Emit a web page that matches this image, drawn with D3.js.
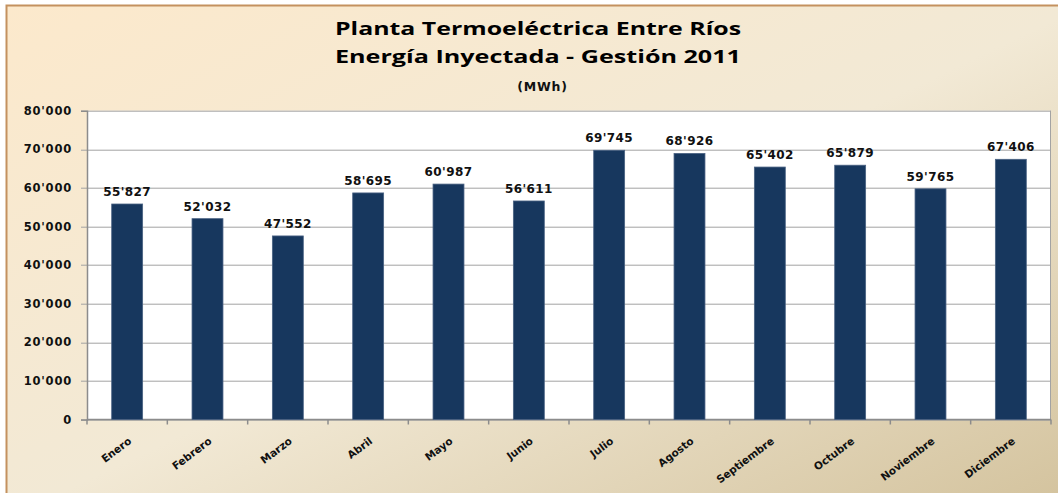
<!DOCTYPE html>
<html>
<head>
<meta charset="utf-8">
<script src="https://cdn.jsdelivr.net/npm/d3@7"></script>
<style>
  body { margin: 0; background: #fff; }
  svg { display: block; }
</style>
</head>
<body>
<div id="chart"></div>
<script>
// monthly values (MWh)
const months = ["Enero", "Febrero", "Marzo", "Abril", "Mayo", "Junio", "Julio",
    "Agosto", "Septiembre", "Octubre", "Noviembre", "Diciembre"]
const energy = [55827, 52032, 47552, 58695, 60987, 56611, 69745, 68926, 65402, 65879, 59765, 67406]
const yTicks = [0, 10000, 20000, 30000, 40000, 50000, 60000, 70000, 80000]
const titleLines = ["Planta Termoeléctrica Entre Ríos", "Energía Inyectada - Gestión 2011"]
const subtitle = "(MWh)"

const data = months.map((m, i) => ({ month: m, value: energy[i] }))

let dims = {
    width: 1058,
    height: 493,
    margin: { top: 110.7, bottom: 73.5, left: 87, right: 7 }
}

const fmt = v => {
    if (v === 0) return "0"
    const s = String(v)
    return s.slice(0, s.length - 3) + "'" + s.slice(-3)
}

const svg = d3.select("#chart").append("svg")
    .attr("width", dims.width)
    .attr("height", dims.height)

const defs = svg.append("defs")
const grad = defs.append("linearGradient")
    .attr("id", "bg")
    .attr("x1", 0).attr("y1", 0).attr("x2", 1).attr("y2", 1)
grad.append("stop").attr("offset", "0%").attr("stop-color", "#fce9cc")
grad.append("stop").attr("offset", "50%").attr("stop-color", "#f2e9d5")
grad.append("stop").attr("offset", "100%").attr("stop-color", "#d2c19b")

// chart background + border
svg.append("rect")
    .attr("x", 6.5).attr("y", 5.5)
    .attr("width", dims.width + 20).attr("height", dims.height + 20)
    .attr("fill", "url(#bg)")
    .attr("stroke", "#c4915f")
    .attr("stroke-width", 2)

const innerW = dims.width - dims.margin.left - dims.margin.right
const innerH = dims.height - dims.margin.top - dims.margin.bottom

const g = svg.append("g")
    .attr("transform", `translate(${dims.margin.left},${dims.margin.top})`)

const xScale = d3.scaleBand()
    .domain(months)
    .range([0, innerW])
    .paddingInner(0.615)
    .paddingOuter(0.3075)

const yScale = d3.scaleLinear()
    .domain([0, 80000])
    .range([innerH, 0])

// plot area
g.append("rect")
    .attr("width", innerW)
    .attr("height", innerH)
    .attr("fill", "#fff")

// gridlines
g.selectAll("line.grid")
    .data(yTicks)
    .enter()
    .append("line")
    .attr("class", "grid")
    .attr("x1", -6)
    .attr("x2", innerW)
    .attr("y1", d => Math.round(yScale(d)) + 0.5)
    .attr("y2", d => Math.round(yScale(d)) + 0.5)
    .attr("stroke", "#a3a3a3")
    .attr("stroke-width", 1)

// right border of plot area
g.append("line")
    .attr("x1", innerW - 0.5).attr("x2", innerW - 0.5)
    .attr("y1", yScale(80000)).attr("y2", innerH)
    .attr("stroke", "#a3a3a3")

// y axis
const yAxis = d3.axisLeft(yScale).tickValues(yTicks).tickFormat(fmt).tickSize(6).tickPadding(9)
const yAxisGroup = g.append("g").call(yAxis)
yAxisGroup.select(".domain").attr("stroke", "#8c8c8c").attr("stroke-width", 1.5)
yAxisGroup.selectAll(".tick line").remove()
yAxisGroup.selectAll("text")
    .attr("font-family", "'DejaVu Sans', Verdana, sans-serif")
    .attr("font-weight", "bold")
    .attr("font-size", "11.5px")
    .attr("letter-spacing", "0.8px")
    .attr("fill", "#111")

// x axis baseline and category boundary ticks
g.append("line")
    .attr("x1", 0).attr("x2", innerW)
    .attr("y1", innerH).attr("y2", innerH)
    .attr("stroke", "#8c8c8c").attr("stroke-width", 1.5)

const step = xScale.step()
g.selectAll("line.xtick")
    .data(d3.range(months.length + 1))
    .enter()
    .append("line")
    .attr("class", "xtick")
    .attr("x1", i => i * step)
    .attr("x2", i => i * step)
    .attr("y1", innerH)
    .attr("y2", innerH + 5)
    .attr("stroke", "#8c8c8c")
    .attr("stroke-width", 1.5)

// x labels
g.selectAll("text.xlab")
    .data(months)
    .enter()
    .append("text")
    .attr("class", "xlab")
    .attr("transform", d => `translate(${xScale(d) + xScale.bandwidth() / 2 + 5},${innerH + 23}) rotate(-37)`)
    .attr("text-anchor", "end")
    .attr("font-family", "'DejaVu Sans', Verdana, sans-serif")
    .attr("font-weight", "bold")
    .attr("font-size", "10.5px")
    .attr("fill", "#111")
    .text(d => d)

// bars
g.selectAll("rect.bar")
    .data(data)
    .enter()
    .append("rect")
    .attr("class", "bar")
    .attr("x", d => xScale(d.month))
    .attr("y", d => yScale(d.value))
    .attr("width", xScale.bandwidth())
    .attr("height", d => innerH - yScale(d.value))
    .attr("fill", "#17375e")
    .attr("stroke", "#4a6283")
    .attr("stroke-width", 0.8)

// value labels
g.selectAll("text.val")
    .data(data)
    .enter()
    .append("text")
    .attr("class", "val")
    .attr("x", d => xScale(d.month) + xScale.bandwidth() / 2)
    .attr("y", d => yScale(d.value) - 8)
    .attr("text-anchor", "middle")
    .attr("font-family", "'DejaVu Sans', Verdana, sans-serif")
    .attr("font-weight", "bold")
    .attr("font-size", "12px")
    .attr("letter-spacing", "0.4px")
    .attr("fill", "#111")
    .text(d => fmt(d.value))

// titles
svg.selectAll("text.title")
    .data(titleLines)
    .enter()
    .append("text")
    .attr("class", "title")
    .attr("x", 538)
    .attr("y", (d, i) => 35 + i * 27.7)
    .attr("text-anchor", "middle")
    .attr("font-family", "'Open Sans', sans-serif")
    .attr("font-weight", "bold")
    .attr("font-size", "17.5px")
    .attr("textLength", 406)
    .attr("lengthAdjust", "spacingAndGlyphs")
    .attr("fill", "#000")
    .text(d => d)

svg.append("text")
    .attr("x", 542.5)
    .attr("y", 90.5)
    .attr("text-anchor", "middle")
    .attr("font-family", "'DejaVu Sans', Verdana, sans-serif")
    .attr("font-weight", "bold")
    .attr("font-size", "12.5px")
    .attr("letter-spacing", "0.8px")
    .attr("fill", "#111")
    .text(subtitle)
</script>
</body>
</html>
